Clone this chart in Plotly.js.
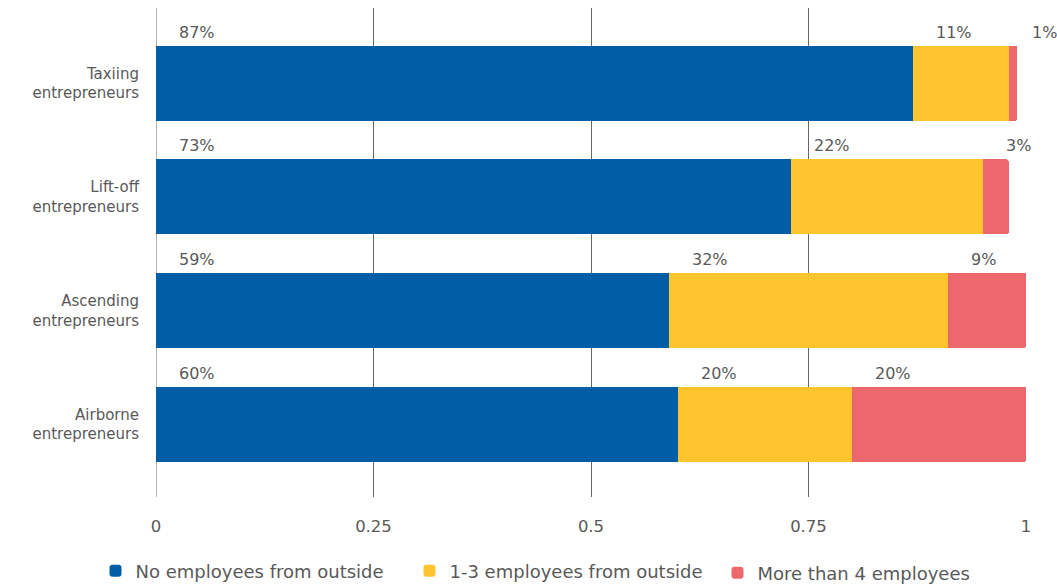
<!DOCTYPE html>
<html><head><meta charset="utf-8">
<script src="https://cdn.plot.ly/plotly-3.0.1.min.js"></script>
<style>html,body{margin:0;padding:0;background:#fff}#chart{width:1057px;height:584px}</style>
</head><body><div id="chart"></div>
<script>
const categories = ["Taxiing<br>entrepreneurs", "Lift-off<br>entrepreneurs", "Ascending<br>entrepreneurs", "Airborne<br>entrepreneurs"];
const seriesNames = ["No employees from outside", "1-3 employees from outside", "More than 4 employees"];
const noOutside = [0.87, 0.73, 0.59, 0.60];
const oneToThree = [0.11, 0.22, 0.32, 0.20];
const moreThanFour = [0.01, 0.03, 0.09, 0.20];
const xTicks = [0, 0.25, 0.5, 0.75, 1];
const xTickLabels = ["0", "0.25", "0.5", "0.75", "1"];

const colors = ["#005DA6", "#FFC42E", "#EC686D"];
const series = [noOutside, oneToThree, moreThanFour];
const legendIds = ["legend", "legend2", "legend3"];
const FONT = "DejaVu Sans, sans-serif";
const GRAY = "#595959";

const traces = series.map((vals, i) => ({
  type: "bar", orientation: "h", name: seriesNames[i],
  y: categories, x: vals, legend: legendIds[i],
  marker: {color: colors[i], line: {width: 0}},
  hoverinfo: "skip"
}));

const annotations = [];
categories.forEach((c, ci) => {
  let start = 0;
  series.forEach((vals) => {
    annotations.push({
      x: start, y: c, xref: "x", yref: "y",
      text: Math.round(vals[ci] * 100) + "%",
      showarrow: false, xanchor: "left", yanchor: "middle",
      xshift: 21, yshift: 51,
      font: {family: FONT, size: 16, color: GRAY}
    });
    start += vals[ci];
  });
});

function legendAt(xpx, ypx) {
  return {
    orientation: "h", xref: "container", yref: "container",
    x: xpx / 1057, xanchor: "left", y: 1 - ypx / 584, yanchor: "middle",
    font: {family: FONT, size: 18, color: GRAY},
    itemwidth: 30, bgcolor: "rgba(0,0,0,0)"
  };
}

const layout = {
  width: 1057, height: 584,
  margin: {l: 156, r: 31, t: 8, b: 87, autoexpand: false},
  barmode: "stack", bargap: 0.34, barcornerradius: 2,
  paper_bgcolor: "#fff", plot_bgcolor: "#fff",
  font: {family: FONT, color: GRAY, size: 16},
  xaxis: {
    range: [0, 1], tickvals: xTicks, ticktext: xTickLabels,
    showgrid: true, gridcolor: "#666", gridwidth: 1,
    zeroline: false, showline: false, ticks: "",
    ticklabelstandoff: 17,
    tickfont: {family: FONT, size: 16.5, color: GRAY}
  },
  yaxis: {
    type: "category", range: [3.64, -0.66],
    showgrid: false, zeroline: false, showline: false, ticks: "",
    ticklabelstandoff: 16,
    tickfont: {family: FONT, size: 15, color: GRAY}
  },
  shapes: [{type: "line", xref: "x", yref: "paper", x0: 0, x1: 0, y0: 0, y1: 1,
            line: {color: "#666", width: 1}, layer: "below"}],
  legend: legendAt(95.5, 571),
  legend2: legendAt(409.5, 571),
  legend3: legendAt(717.5, 573),
  annotations: annotations,
  showlegend: true
};

Plotly.newPlot("chart", traces, layout, {displayModeBar: false, staticPlot: true});
</script>
</body></html>
